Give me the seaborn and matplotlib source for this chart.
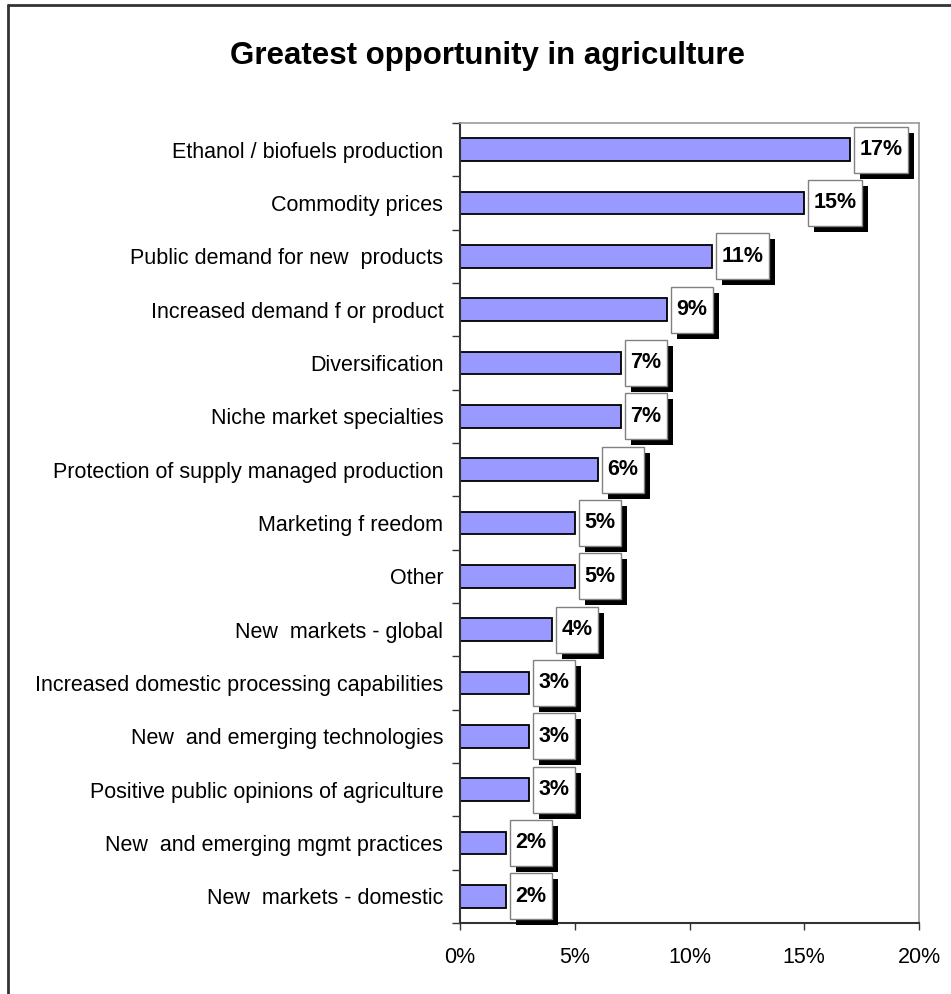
import matplotlib
matplotlib.use("Agg")
import matplotlib.pyplot as plt
import matplotlib.transforms as mtransforms
from matplotlib.patches import Rectangle
from matplotlib.lines import Line2D
import pandas as pd
import seaborn as sns

categories = [
    "Ethanol / biofuels production",
    "Commodity prices",
    "Public demand for new  products",
    "Increased demand f or product",
    "Diversification",
    "Niche market specialties",
    "Protection of supply managed production",
    "Marketing f reedom",
    "Other",
    "New  markets - global",
    "Increased domestic processing capabilities",
    "New  and emerging technologies",
    "Positive public opinions of agriculture",
    "New  and emerging mgmt practices",
    "New  markets - domestic",
]
shares = [17, 15, 11, 9, 7, 7, 6, 5, 5, 4, 3, 3, 3, 2, 2]
value_labels = [f"{v}%" for v in shares]
xticks = [0, 5, 10, 15, 20]
xtick_labels = [f"{t}%" for t in xticks]
title = "Greatest opportunity in agriculture"

sns.set_theme(style="white")
plt.rcParams["font.family"] = ["Liberation Sans", "DejaVu Sans"]
plt.rcParams["text.color"] = "black"
plt.rcParams["xtick.color"] = "black"
plt.rcParams["ytick.color"] = "black"
plt.rcParams["axes.labelcolor"] = "black"

W, H = 951, 994
fig = plt.figure(figsize=(W / 100, H / 100), dpi=100)
fig.patch.set_facecolor("white")
ax = fig.add_axes([460 / W, 71 / H, 459 / W, 800 / H])

df = pd.DataFrame({"category": categories, "share": shares})
sns.barplot(data=df, y="category", x="share", orient="h", color="#9999FF",
            saturation=1, edgecolor="black", linewidth=1.3, width=0.42, ax=ax)

ax.set_xlim(0, 20)
ax.set_ylim(len(categories) - 0.5, -0.5)
ax.set_xlabel("")
ax.set_ylabel("")
ax.set_xticks(xticks)
ax.set_xticklabels(xtick_labels, fontsize=15.5)
ax.set_yticks(range(len(categories)))
ax.set_yticklabels(categories, fontsize=15.5)
ax.set_yticks([i - 0.5 for i in range(len(categories) + 1)], minor=True)
ax.tick_params(axis="y", which="major", length=0, pad=12)
ax.tick_params(axis="y", which="minor", length=6, width=1, color="#333333", left=True)
ax.tick_params(axis="x", which="major", length=5, width=1, color="#333333", bottom=True, pad=12)

for side in ("left", "bottom"):
    ax.spines[side].set_color("#333333")
    ax.spines[side].set_linewidth(1.5)
for side in ("top", "right"):
    ax.spines[side].set_color("#999999")
    ax.spines[side].set_linewidth(1.2)

fig.text(488 / W, 1 - 56 / H, title, ha="center", va="center",
         fontsize=22.5, fontweight="bold")

# Value labels in white boxes with a solid black drop shadow
texts = []
for i, (v, lab) in enumerate(zip(shares, value_labels)):
    t = ax.text(v, i, lab, fontsize=15.5, fontweight="bold", ha="left", va="center",
                transform=ax.transData + mtransforms.ScaledTranslation(9.5 / 100, 0, fig.dpi_scale_trans),
                zorder=6, clip_on=False)
    texts.append(t)

fig.canvas.draw()
renderer = fig.canvas.get_renderer()
ident = mtransforms.IdentityTransform()
for i, (v, t) in enumerate(zip(shares, texts)):
    bb = t.get_window_extent(renderer)
    bx, by = ax.transData.transform((v, i))
    x0 = bx + 4
    w = bb.width + 11
    h = 46
    y0 = by - h / 2
    shadow = Rectangle((x0 + 6, y0 - 6), w, h, facecolor="black", edgecolor="none",
                       transform=ident, zorder=4, clip_on=False)
    box = Rectangle((x0, y0), w, h, facecolor="white", edgecolor="#808080",
                    linewidth=1, transform=ident, zorder=5, clip_on=False)
    ax.add_artist(shadow)
    ax.add_artist(box)

# Outer chart-area frame (top and left edges visible)
fig.add_artist(Line2D([8 / W, 8 / W], [0, 1 - 5 / H], transform=fig.transFigure,
                      color="#333333", linewidth=2))
fig.add_artist(Line2D([8 / W, 1], [1 - 5 / H, 1 - 5 / H], transform=fig.transFigure,
                      color="#333333", linewidth=2))

fig.savefig("out.png", dpi=100, facecolor="white")
